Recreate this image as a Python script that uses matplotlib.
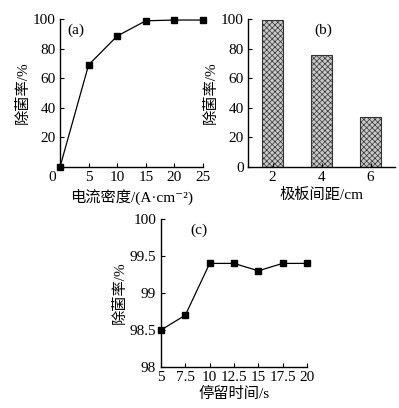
import matplotlib
matplotlib.use("Agg")
import matplotlib.pyplot as plt

plt.rcParams['font.family'] = ['Liberation Serif', 'Noto Sans CJK SC', 'DejaVu Serif']
plt.rcParams['hatch.color'] = '#808080'
plt.rcParams['hatch.linewidth'] = 0.5

# (a) current density
a_x = [0, 5, 10, 15, 20, 25]
a_y = [0, 69, 88.5, 98.8, 99.3, 99.3]
a_xticks = [5, 10, 15, 20, 25]
a_yticks = [20, 40, 60, 80, 100]

# (b) plate spacing
b_x = [2, 4, 6]
b_y = [99, 75.5, 33.5]
b_yticks = [0, 20, 40, 60, 80, 100]

# (c) residence time
c_x = [5, 7.5, 10, 12.5, 15, 17.5, 20]
c_y = [98.5, 98.7, 99.4, 99.4, 99.3, 99.4, 99.4]
c_xticks = [5, 7.5, 10, 12.5, 15, 17.5, 20]
c_xticklabels = ['5', '7.5', '10', '12.5', '15', '17.5', '20']
c_yticks = [98, 98.5, 99, 99.5, 100]
c_yticklabels = ['98', '98.5', '99', '99.5', '100']

W, H = 399, 408
fig = plt.figure(figsize=(W / 100, H / 100), dpi=100)

def ax_at(l, t, r, b):
    return fig.add_axes([l / W, 1 - b / H, (r - l) / W, (b - t) / H])

def style(ax):
    for s in ['top', 'right']:
        ax.spines[s].set_visible(False)
    for s in ['left', 'bottom']:
        ax.spines[s].set_linewidth(1.0)
    ax.tick_params(direction='in', length=3, width=0.8, labelsize=11, pad=3)

fs = 11
ylab = '除菌率/%'

# Panel a
ax = ax_at(60, 19, 203, 167)
style(ax)
ax.plot(a_x, a_y, '-', color='black', lw=0.9, marker='s', ms=4.6, clip_on=False, zorder=5)
ax.set_xlim(0, 25)
ax.set_ylim(0, 100)
ax.set_xticks(a_xticks)
ax.set_yticks(a_yticks)
ax.text(-0.03, -0.03, '0', transform=ax.transAxes, ha='right', va='top', fontsize=fs)
ax.set_xlabel('电流密度/(A·cm⁻²)', fontsize=fs, labelpad=3)
ax.set_ylabel(ylab, fontsize=fs, labelpad=2)
ax.text(0.05, 0.97, '(a)', transform=ax.transAxes, ha='left', va='top', fontsize=fs)

# Panel b
ax = ax_at(248, 19, 395, 167)
style(ax)
ax.bar(b_x, b_y, width=0.82, facecolor='#c8c8c8', edgecolor='#333333', lw=0.8, hatch='xxxxxx')
ax.set_xlim(1, 7)
ax.set_ylim(0, 100)
ax.set_xticks(b_x)
ax.set_yticks(b_yticks)
ax.set_xlabel('极板间距/cm', fontsize=fs, labelpad=3)
ax.set_ylabel(ylab, fontsize=fs, labelpad=2)
ax.text(0.45, 0.97, '(b)', transform=ax.transAxes, ha='left', va='top', fontsize=fs)

# Panel c
ax = ax_at(161, 219, 307, 367)
style(ax)
ax.plot(c_x, c_y, '-', color='black', lw=0.9, marker='s', ms=4.6, clip_on=False, zorder=5)
ax.set_xlim(5, 20)
ax.set_ylim(98, 100)
ax.set_xticks(c_xticks)
ax.set_xticklabels(c_xticklabels)
ax.set_yticks(c_yticks)
ax.set_yticklabels(c_yticklabels)
ax.tick_params(axis='x', pad=3)
ax.tick_params(axis='y', pad=3.5)
ax.set_xlabel('停留时间/s', fontsize=fs, labelpad=2)
ax.set_ylabel(ylab, fontsize=fs, labelpad=2)
ax.text(0.2, 0.97, '(c)', transform=ax.transAxes, ha='left', va='top', fontsize=fs)

fig.savefig('out.png', dpi=100)
